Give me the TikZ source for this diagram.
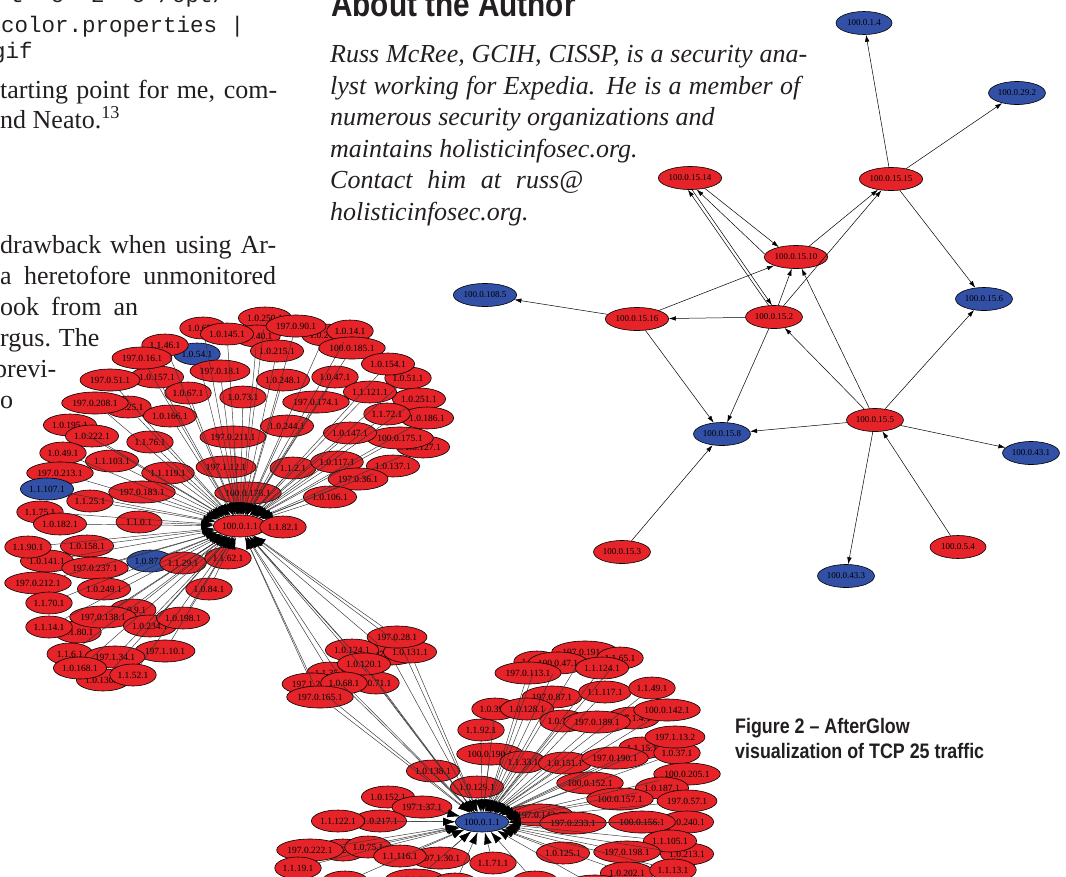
\documentclass[tikz,border=0pt]{standalone}
\usepackage{fontspec}
\setmainfont{Liberation Serif}
\setsansfont{Liberation Sans}
\setmonofont{Liberation Mono}
\usetikzlibrary{arrows.meta,shapes.geometric}

\definecolor{nodered}{RGB}{230,35,40}
\definecolor{nodeblue}{RGB}{50,80,165}
\definecolor{ink}{RGB}{35,31,32}

\begin{document}
\begin{tikzpicture}[x=1pt, y=-1pt,
    leaf/.style={ellipse, draw=black, line width=0.6pt, fill=nodered, minimum width=46pt,
        minimum height=22pt, inner xsep=1pt, inner ysep=0pt, font=\fontsize{9.5}{10}\selectfont},
    host/.style={leaf, minimum width=56pt, minimum height=23pt, font=\fontsize{9}{10}\selectfont},
    feed/.style={black!80, line width=0.45pt, -{Latex[length=12pt,width=8pt,color=black]}},
    link/.style={black, line width=0.5pt, -{Latex[length=7pt,width=4.5pt]}},
    prose/.style={anchor=base west, inner sep=0pt, text=ink, font=\fontsize{26}{31}\selectfont},
    bio/.style={prose, font=\fontsize{26}{31}\selectfont\itshape},
    code/.style={prose, font=\fontsize{22.5}{27}\selectfont\ttfamily},
    caption/.style={anchor=base west, inner sep=0pt, text=ink, font=\fontsize{21}{25}\selectfont\sffamily\bfseries}]

    \useasboundingbox (0,0) rectangle (1066,876);
    \clip (0,0) rectangle (1066,876);
    \fill[white] (0,0) rectangle (1066,876);

    % column text on the left
    \node[code] (code1) at (10,2) {t~~e~~2~~e~/opt/};
    \node[code] (code2) at (1,32) {color.properties |};
    \node[code] (code3) at (-8,58) {gif};
    \node[prose] (body1) at (0,98) {\makebox[277pt][s]{tarting point for me, com-}};
    \node[prose] (body2) at (0,128) {nd Neato.\textsuperscript{13}};
    \node[prose] (body3) at (0,253) {\makebox[276pt][s]{drawback when using Ar-}};
    \node[prose] (body4) at (0,284) {\makebox[276pt][s]{a heretofore unmonitored}};
    \node[prose] (body5) at (0,315) {\makebox[138pt][s]{ook from an}};
    \node[prose] (body6) at (0,346) {\makebox[97pt][s]{rgus. The}};
    \node[prose] (body7) at (-6,377) {previ-};
    \node[prose] (body8) at (0,408) {o};

    % about the author
    \node[anchor=base west, inner sep=0pt, text=ink] (head) at (331,16)
        {\scalebox{0.85}[1]{\fontsize{35}{40}\selectfont\sffamily\bfseries About the Author}};
    \node[bio] (bio1) at (330,62) {\makebox[477pt][s]{Russ McRee, GCIH, CISSP, is a security ana-}};
    \node[bio] (bio2) at (330,94) {\makebox[470pt][s]{lyst working for Expedia. He is a member of}};
    \node[bio] (bio3) at (330,125) {numerous security organizations and};
    \node[bio] (bio4) at (330,157) {maintains holisticinfosec.org.};
    \node[bio] (bio5) at (330,188) {\makebox[253pt][s]{Contact him at russ@}};
    \node[bio] (bio6) at (330,220) {holisticinfosec.org.};

    % caption
    \node[caption] (cap1) at (735,733) {\scalebox{0.85}[1]{Figure 2 -- AfterGlow}};
    \node[caption] (cap2) at (735,758) {\scalebox{0.85}[1]{visualization of TCP 25 traffic}};

    % small graph, hosts
    \node[host, fill=nodeblue] (h14) at (864,23) {100.0.1.4};
    \node[host, fill=nodeblue] (h292) at (1017,93) {100.0.29.2};
    \node[host] (h1514) at (690,178) {100.0.15.14};
    \node[host] (h1515) at (891,179) {100.0.15.15};
    \node[host] (h1510) at (796,257) {100.0.15.10};
    \node[host, fill=nodeblue] (h1085) at (485,295) {100.0.108.5};
    \node[host, fill=nodeblue] (h156) at (984,299) {100.0.15.6};
    \node[host] (h1516) at (637,319) {100.0.15.16};
    \node[host] (h152) at (774,317) {100.0.15.2};
    \node[host, fill=nodeblue] (h158) at (722,434) {100.0.15.8};
    \node[host] (h155) at (875,420) {100.0.15.5};
    \node[host, fill=nodeblue] (h431) at (1031,453) {100.0.43.1};
    \node[host] (h153) at (622,552) {100.0.15.3};
    \node[host] (h54) at (958,547) {100.0.5.4};
    \node[host, fill=nodeblue] (h433) at (846,576) {100.0.43.3};

    % small graph, flows
    \draw[link] (h1515) -- (h14);
    \draw[link] (h1515) -- (h292);
    \draw[link] (h1515) -- (h156);
    \draw[link] (h1514.-35) -- (h1510.150);
    \draw[link] (h1510.175) -- (h1514.-60);
    \draw[link] (h152.115) -- (h1514.-100);
    \draw[link] (h1514.-80) -- (h152.100);
    \draw[link] (h1516) -- (h1510);
    \draw[link] (h152) -- (h1510);
    \draw[link] (h155) -- (h1510);
    \draw[link] (h1510) -- (h1515);
    \draw[link] (h152) -- (h1515);
    \draw[link] (h152) -- (h1516);
    \draw[link] (h1516) -- (h1085);
    \draw[link] (h1516) -- (h158);
    \draw[link] (h152) -- (h158);
    \draw[link] (h155) -- (h158);
    \draw[link] (h155) -- (h152);
    \draw[link] (h155) -- (h156);
    \draw[link] (h155) -- (h431);
    \draw[link] (h155) -- (h433);
    \draw[link] (h54) -- (h155);
    \draw[link] (h153) -- (h158);

    % left cluster, senders
    \foreach [count=\i] \x/\y/\lbl/\c in {
        203/328/1.0.65.1/red, 265/318/1.0.250.1/red, 257/336/1.0.40.1/red, 325/335/1.0.27.1/red,
        350/331/1.0.14.1/red, 227/334/1.0.145.1/red, 296/326/197.0.90.1/red, 197/354/1.0.54.1/blue,
        165/345/1.1.46.1/red, 157/377/1.0.157.1/red, 142/358/197.0.16.1/red, 277/351/1.0.215.1/red,
        352/348/100.0.185.1/red, 408/378/1.0.51.1/red, 388/364/1.0.154.1/red, 110/380/197.0.51.1/red,
        220/371/197.0.18.1/red, 283/380/1.0.248.1/red, 335/377/1.0.47.1/red, 188/393/1.0.67.1/red,
        243/397/1.0.73.1/red, 419/399/1.0.251.1/red, 370/392/1.1.121.1/red, 316/402/197.0.174.1/red,
        128/407/1.0.25.1/red, 95/403/197.0.208.1/red, 170/416/1.0.166.1/red, 427/418/1.0.186.1/red,
        387/414/1.1.72.1/red, 287/426/1.0.244.1/red, 70/425/1.0.195.1/red, 92/436/1.0.222.1/red,
        233/437/197.0.211.1/red, 150/442/1.1.76.1/red, 423/447/1.0.127.1/red, 400/438/100.0.175.1/red,
        350/433/1.0.147.1/red, 63/453/1.0.49.1/red, 112/461/1.1.103.1/red, 293/468/1.1.2.1/red,
        226/467/197.1.12.1/red, 337/462/1.0.117.1/red, 393/466/1.0.137.1/red, 168/473/1.1.119.1/red,
        60/473/197.0.213.1/red, 358/479/197.0.36.1/red, 47/489/1.1.107.1/blue, 142/492/197.0.183.1/red,
        248/493/100.0.178.1/red, 90/501/1.1.25.1/red, 330/497/1.0.106.1/red, 40/512/1.1.75.1/red,
        60/524/1.0.182.1/red, 139/522/1.1.0.1/red, 47/561/1.0.141.1/red, 28/547/1.1.90.1/red,
        87/546/1.0.158.1/red, 95/568/197.0.237.1/red, 150/561/1.0.87.1/blue, 228/558/1.1.62.1/red,
        183/563/1.1.29.1/red, 38/583/197.0.212.1/red, 104/589/1.0.249.1/red, 209/589/1.0.84.1/red,
        49/603/1.1.70.1/red, 133/610/1.0.9.1/red, 78/632/1.1.80.1/red, 103/617/197.0.138.1/red,
        150/626/1.0.234.1/red, 183/618/1.0.198.1/red, 49/627/1.1.14.1/red, 165/651/197.1.10.1/red,
        70/654/1.1.6.1/red, 103/680/1.0.130.1/red, 115/657/197.1.34.1/red, 80/668/1.0.168.1/red,
        133/675/1.1.52.1/red}
        {\node[leaf, fill=node\c] (l\i) at (\x,\y) {\lbl}; \xdef\nleft{\i}}

    % middle band, senders to both hubs
    \foreach [count=\i] \x/\y/\lbl in {
        390/654/197.0.11.1, 410/652/1.0.131.1, 352/650/1.0.124.1, 330/673/1.1.35.1,
        376/683/1.0.71.1, 312/684/197.1.26.1, 397/637/197.0.28.1, 364/664/1.0.120.1,
        344/683/1.0.68.1, 320/697/197.0.165.1}
        {\node[leaf] (m\i) at (\x,\y) {\lbl}; \xdef\nmid{\i}}

    % bottom cluster, senders
    \foreach [count=\i] \x/\y/\lbl in {
        585/652/197.0.191.1, 620/658/1.1.65.1, 537/662/1.0.41.1, 558/663/100.0.47.1,
        528/673/197.0.113.1, 602/668/1.1.124.1, 552/697/197.0.87.1, 605/692/1.1.117.1,
        652/688/1.1.49.1, 495/709/1.0.39.1, 527/709/1.0.128.1, 633/718/197.1.4.1,
        667/710/100.0.142.1, 563/721/1.0.16.1, 597/722/197.0.189.1, 481/730/1.1.92.1,
        642/748/1.1.15.1, 677/753/1.0.37.1, 675/737/197.1.13.2, 490/754/100.0.190.1,
        523/762/1.1.33.1, 565/763/1.0.151.1, 615/758/197.0.190.1, 687/774/100.0.205.1,
        433/771/1.0.138.1, 477/787/1.0.129.1, 590/783/100.0.152.1, 662/788/1.0.187.1,
        620/799/100.0.157.1, 687/801/197.0.57.1, 388/797/1.0.152.1, 422/807/197.1.37.1,
        380/821/1.0.217.1, 338/821/1.1.122.1, 540/815/197.0.143.1, 573/823/197.0.233.1,
        687/822/1.0.240.1, 642/822/100.0.156.1, 687/854/1.0.213.1, 670/841/1.1.105.1,
        563/853/1.0.125.1, 627/852/197.0.198.1, 343/850/1.1.21.1, 368/847/1.0.75.1,
        310/850/197.0.222.1, 440/858/197.1.30.1, 400/856/1.1.116.1, 627/873/1.0.202.1,
        673/870/1.1.13.1, 493/863/1.1.71.1, 298/868/1.1.19.1, 345/882/1.0.80.1,
        415/880/197.0.70.1, 455/884/1.0.93.1, 535/882/1.1.40.1, 595/886/197.0.66.1}
        {\node[leaf] (b\i) at (\x,\y) {\lbl}; \xdef\nbot{\i}}

    % the two hubs
    \node[leaf] (hubL) at (240,526) {100.0.1.1};
    \node[leaf, fill=nodeblue, minimum width=52pt, minimum height=20pt] (hubB) at (482,822) {100.0.1.1};

    % traffic into the hubs
    \foreach \i in {1,...,\nleft} \draw[feed] (l\i) -- (hubL);
    \foreach \i in {1,...,\nmid} {
        \draw[feed] (m\i) -- (hubL);
        \draw[feed] (m\i) -- (hubB);
    }
    \foreach \i in {1,...,\nbot} \draw[feed] (b\i) -- (hubB);

    % neighbour lying on the hub
    \node[leaf] (l82) at (283,527) {1.1.82.1};

\end{tikzpicture}
\end{document}
